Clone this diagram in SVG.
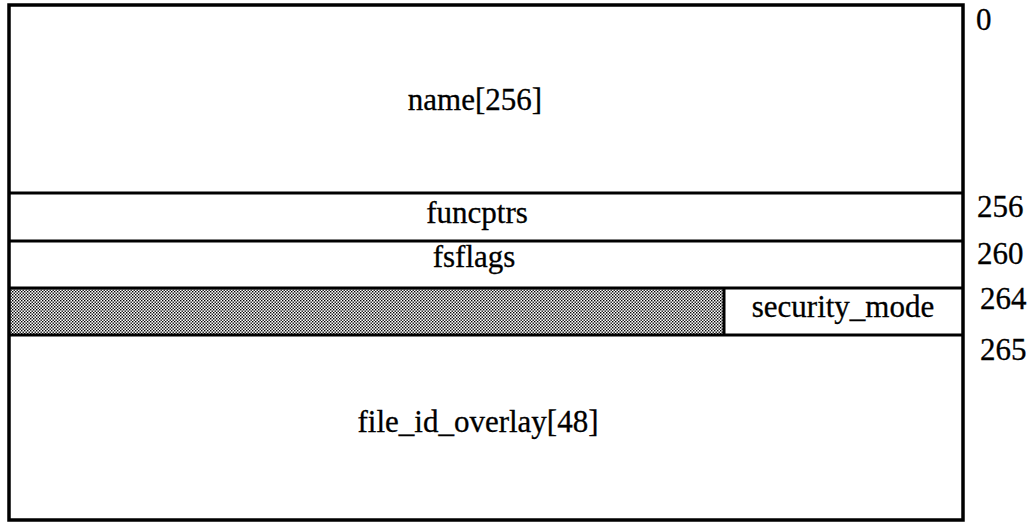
<svg xmlns="http://www.w3.org/2000/svg" width="1034" height="524" viewBox="0 0 1034 524">
<style>
.b{fill:none;stroke:#000;stroke-width:3.5}
.l{stroke:#000;stroke-width:3}
.t{font-family:"Liberation Serif","Times New Roman",serif;font-size:31px;fill:#000;stroke:#000;stroke-width:0.3}
.m{text-anchor:middle}
</style>
<defs>
<pattern id="dots" width="3" height="3" patternUnits="userSpaceOnUse">
<rect width="3" height="3" fill="#fff"/>
<rect x="0" y="0" width="1.4" height="1.4" fill="#000"/>
<rect x="1.5" y="1.5" width="1.4" height="1.4" fill="#000"/>
</pattern>
</defs>
<rect width="1034" height="524" fill="#fff"/>
<g id="shade"><rect x="9" y="289" width="715" height="46" fill="url(#dots)"/></g>
<g id="frame">
<rect class="b" x="9" y="5" width="954" height="515"/>
<line class="l" x1="9" y1="193" x2="963" y2="193"/>
<line class="l" x1="9" y1="241" x2="963" y2="241"/>
<line class="l" x1="9" y1="288" x2="963" y2="288"/>
<line class="l" x1="9" y1="335" x2="963" y2="335"/>
<line class="l" x1="724" y1="288" x2="724" y2="335"/>
</g>
<g id="name"><text class="t m" x="475" y="110">name[256]</text></g>
<g id="funcptrs"><text class="t m" x="477" y="223">funcptrs</text></g>
<g id="fsflags"><text class="t m" x="474" y="267">fsflags</text></g>
<g id="security_mode"><text class="t m" x="843" y="317">security_mode</text></g>
<g id="file_id_overlay"><text class="t m" x="478" y="432">file_id_overlay[48]</text></g>
<g id="offsets">
<text class="t" x="976" y="30">0</text>
<text class="t" x="977" y="217">256</text>
<text class="t" x="977" y="264">260</text>
<text class="t" x="980" y="309">264</text>
<text class="t" x="980" y="360">265</text>
</g>
</svg>
